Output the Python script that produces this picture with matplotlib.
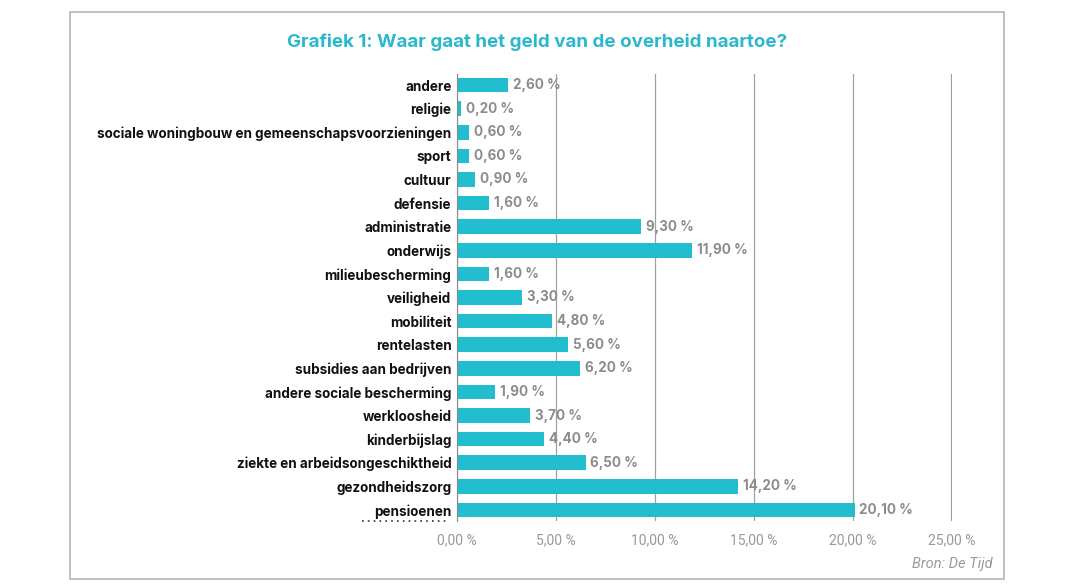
import matplotlib
matplotlib.use("Agg")
import matplotlib.pyplot as plt
from matplotlib.patches import Rectangle
from matplotlib.lines import Line2D

categories = ["andere", "religie", "sociale woningbouw en gemeenschapsvoorzieningen", "sport",
              "cultuur", "defensie", "administratie", "onderwijs", "milieubescherming",
              "veiligheid", "mobiliteit", "rentelasten", "subsidies aan bedrijven",
              "andere sociale bescherming", "werkloosheid", "kinderbijslag",
              "ziekte en arbeidsongeschiktheid", "gezondheidszorg", "pensioenen"]
values = [2.6, 0.2, 0.6, 0.6, 0.9, 1.6, 9.3, 11.9, 1.6, 3.3, 4.8, 5.6, 6.2, 1.9, 3.7,
          4.4, 6.5, 14.2, 20.1]
xticks = [0, 5, 10, 15, 20, 25]

def fmt(v):
    return f"{v:.2f}".replace(".", ",") + " %"

BAR = "#22BECF"
GRAY = "#8c8c8c"

fig = plt.figure(figsize=(10.74, 5.87), dpi=100)
fig.patches.append(Rectangle((70/1074, 1-579/587), 934/1074, 567/587, transform=fig.transFigure,
                             fill=False, edgecolor="#b5b5b5", linewidth=1.2))
ax = fig.add_axes([457/1074, 1-521/587, 495/1074, 447/587])

n = len(categories)
ypos = list(range(n))[::-1]
ax.barh(ypos, values, height=0.62, color=BAR, zorder=3)
ax.set_xlim(0, 25.03)
ax.set_ylim(-0.47, n - 1 + 0.47)
ax.set_xticks(xticks)
ax.set_xticklabels([fmt(t) for t in xticks], color="#999999", fontsize=10, family="Roboto")
ax.set_yticks(ypos)
ax.set_yticklabels(categories, fontsize=9.7, fontweight="bold", family="Inter", color="#111111")
ax.tick_params(axis="both", length=0)
ax.tick_params(axis="y", pad=4)
ax.tick_params(axis="x", pad=9)
ax.grid(axis="x", color="#a0a0a0", linewidth=0.9, zorder=0)
for s in ["top", "right", "bottom"]:
    ax.spines[s].set_visible(False)
ax.spines["left"].set_color("#8a8a8a")
ax.spines["left"].set_zorder(4)

for y, v in zip(ypos, values):
    ax.text(v + 0.25, y, fmt(v), va="center", ha="left", color=GRAY, fontsize=9.7,
            fontweight="bold", family="Inter", zorder=5)

fig.text(0.5 * (70 + 1004) / 1074, 1 - 42/587, "Grafiek 1: Waar gaat het geld van de overheid naartoe?",
         ha="center", va="center", color="#2BB8CC", fontsize=13.5, fontweight="bold", family="Inter")
fig.text(993/1074, 1 - 564/587, "Bron: De Tijd", ha="right", va="center", color="#9a9a9a",
         fontsize=10.5, style="italic", family="Roboto")
fig.lines.append(Line2D([362/1074, 449/1074], [1-521/587, 1-521/587], transform=fig.transFigure,
                        color="#333333", linestyle=(0, (1, 2.5)), linewidth=1.2))

fig.savefig("out.png", dpi=100)
